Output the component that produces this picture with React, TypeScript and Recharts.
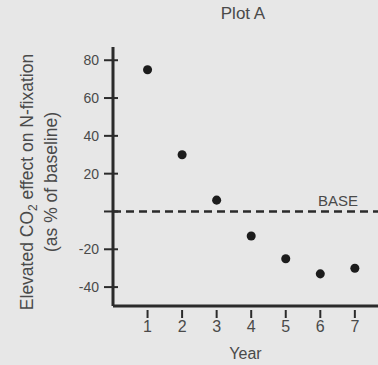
import React from 'react';
import { ScatterChart, Scatter, XAxis, YAxis, ZAxis, ReferenceLine } from 'recharts';

const years = [1, 2, 3, 4, 5, 6, 7];
const effect = [75, 30, 6, -13, -25, -33, -30];
const yTicks = [-40, -20, 0, 20, 40, 60, 80];

const points = years.map((year, i) => ({ year, effect: effect[i] }));

const AXIS = '#2b2b2b';
const TEXT = '#4a4a4a';
const FONT = '"Liberation Sans", Arial, sans-serif';

const YTick = (props: any) => {
  const { x, y, payload } = props;
  return (
    <g>
      <line x1={x - 1} x2={x + 13} y1={y} y2={y} stroke={AXIS} strokeWidth={2} />
      <text x={x - 6} y={y} dy={5} textAnchor="end" fontSize={14} fill={TEXT} fontFamily={FONT}>
        {payload.value === 0 ? '' : payload.value}
      </text>
    </g>
  );
};

const XTick = (props: any) => {
  const { x, y, payload } = props;
  return (
    <g>
      <line x1={x} x2={x} y1={y - 4} y2={y + 4} stroke={AXIS} strokeWidth={2} />
      <text x={x} y={y + 18} textAnchor="middle" fontSize={16} fill={TEXT} fontFamily={FONT}>
        {payload.value}
      </text>
    </g>
  );
};

const YLabel = () => {
  const cy = 182;
  return (
    <g fontFamily={FONT} fontSize={17.5} fill={TEXT}>
      <text x={33} y={cy} transform={`rotate(-90, 33, ${cy})`} textAnchor="middle">
        Elevated CO<tspan fontSize={12} dy={4}>2</tspan>
        <tspan dy={-4}> effect on N-fixation</tspan>
      </text>
      <text x={57} y={cy} transform={`rotate(-90, 57, ${cy})`} textAnchor="middle">
        (as % of baseline)
      </text>
    </g>
  );
};

const BaseLabel = (props: any) => {
  const { viewBox } = props;
  return (
    <text
      x={viewBox.x + viewBox.width - 20}
      y={viewBox.y - 5}
      textAnchor="end"
      fontSize={15}
      fill={TEXT}
      fontFamily={FONT}
    >
      BASE
    </text>
  );
};

export default function App() {
  return (
    <div style={{ position: 'absolute', left: 0, top: 0, width: 378, height: 365, background: '#e7e7e7' }}>
      <div
        style={{
          position: 'absolute',
          left: 0,
          width: 486,
          top: 4,
          textAlign: 'center',
          fontFamily: FONT,
          fontSize: 17,
          color: TEXT,
        }}
      >
        Plot A
      </div>
      <ScatterChart width={378} height={365} margin={{ top: 47, right: 0, bottom: 0, left: 0 }}>
        <XAxis
          type="number"
          dataKey="year"
          domain={[0, 7.67]}
          ticks={years}
          tick={<XTick />}
          tickLine={false}
          axisLine={{ stroke: AXIS, strokeWidth: 3 }}
          height={59}
          allowDataOverflow
          label={{ value: 'Year', position: 'insideBottom', offset: 6, fontSize: 16, fill: TEXT, fontFamily: FONT }}
        />
        <YAxis
          type="number"
          dataKey="effect"
          domain={[-50, 87]}
          ticks={yTicks}
          tick={<YTick />}
          tickLine={false}
          axisLine={{ stroke: AXIS, strokeWidth: 3 }}
          width={113}
          allowDataOverflow
          label={<YLabel />}
        />
        <ZAxis range={[50, 50]} />
        <ReferenceLine
          y={0}
          stroke={AXIS}
          strokeWidth={2.5}
          strokeDasharray="8 5"
          label={<BaseLabel />}
        />
        <Scatter data={points} fill="#1c1c1c" isAnimationActive={false} shape="circle" />
      </ScatterChart>
    </div>
  );
}
